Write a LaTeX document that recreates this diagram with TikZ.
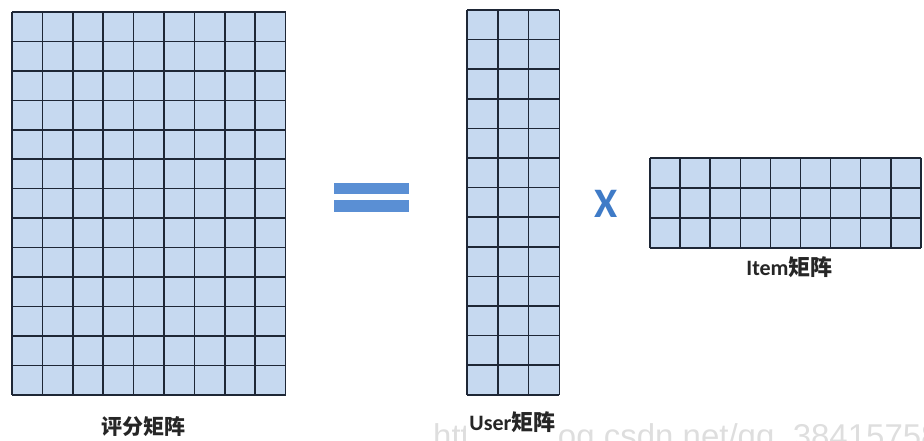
\documentclass[tikz,border=0pt]{standalone}
\usepackage{fontspec}
\setmainfont{Carlito}
\newfontfamily\cjk{Noto Sans CJK SC}
\newfontfamily\wmfont{Liberation Sans}
\definecolor{cellfill}{HTML}{C6D9F0}
\definecolor{gridline}{HTML}{1E2736}
\definecolor{eqblue}{HTML}{5A8FD4}
\definecolor{opblue}{HTML}{3F7BC7}
\definecolor{wmgray}{HTML}{DEDEDE}

% \matgrid{x0}{y0}{cols}{rows}{cell width}{cell height}
\newcommand\matgrid[6]{%
  \fill[cellfill] (#1,#2) rectangle ++(#3*#5,#4*#6);
  \foreach \i in {0,...,#3}
    \draw[gridline] (#1+\i*#5,#2) -- ++(0,#4*#6);
  \foreach \j in {0,...,#4}
    \draw[gridline] (#1,#2+\j*#6) -- ++(#3*#5,0);
}

\tikzset{
  gridline/.style={draw=gridline, line width=1.5pt},
  cjklabel/.style={font=\fontsize{21}{21}\selectfont\bfseries, text=black!85, inner sep=2pt},
  mixlabel/.style={font=\fontsize{22}{22}\selectfont\bfseries, text=black!85, inner xsep=3pt, inner ysep=3pt, fill=white},
}

\begin{document}
\begin{tikzpicture}[x=1pt,y=-1pt]
  \useasboundingbox (0,0) rectangle (924,441);

  % rating matrix: 13 x 9
  \matgrid{12}{12}{9}{13}{30.4}{29.45}

  % equals sign
  \fill[eqblue] (334,183) rectangle (409,194);
  \fill[eqblue] (334,200) rectangle (409,212);

  % user matrix: 13 x 3
  \matgrid{467}{10}{3}{13}{30.8}{29.6}

  % times sign
  \node[font=\fontsize{42}{42}\selectfont\bfseries, text=opblue, inner sep=0pt] (times) at (606.5,204) {X};

  % item matrix: 3 x 9
  \matgrid{650}{158}{9}{3}{30.1}{30}

  % site watermark along the bottom
  \node[font=\wmfont\fontsize{33}{33}\selectfont, text=wmgray, anchor=base west, inner sep=0pt] (wm) at (433,447) {https://blog.csdn.net/qq\_38415758};

  % captions
  \node[cjklabel] (ratinglbl) at (143,427) {\cjk 评分矩阵};
  \node[mixlabel, minimum height=34pt, text depth=8pt] (userlbl) at (512.5,425) {User{\cjk 矩阵}};
  \node[mixlabel] (itemlbl) at (789.5,267) {Item{\cjk 矩阵}};
\end{tikzpicture}
\end{document}
